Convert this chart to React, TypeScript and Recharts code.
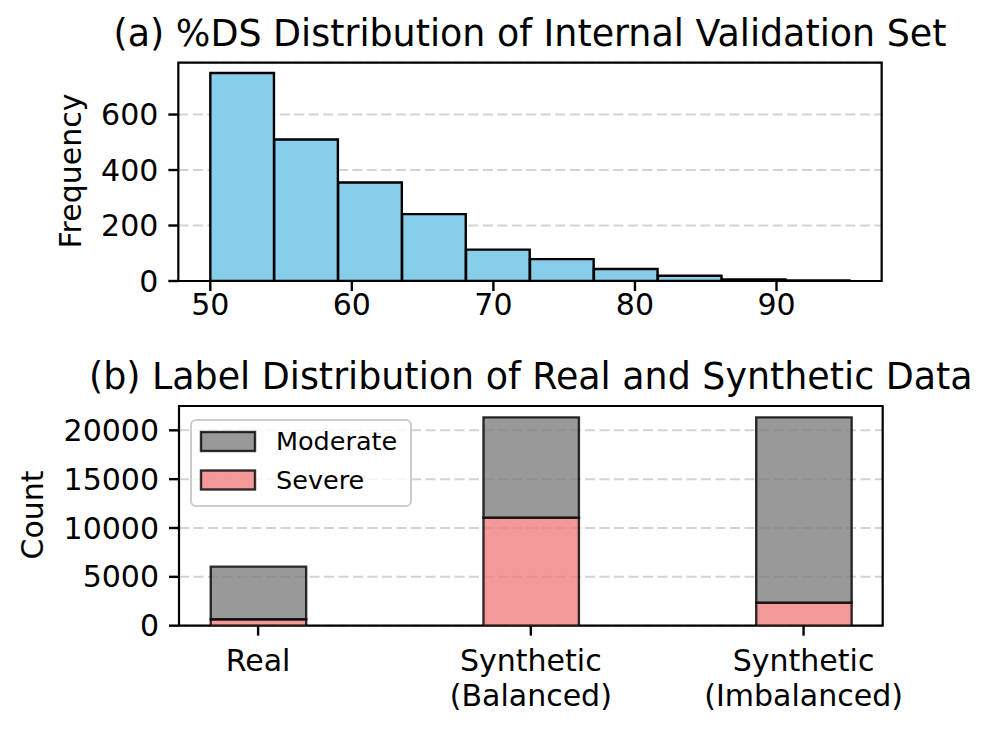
import React from 'react';
import { ComposedChart, Bar, XAxis, YAxis, CartesianGrid, ReferenceArea, Legend, Customized } from 'recharts';

const FONT = '"DejaVu Sans", sans-serif';

// (a) %DS histogram
const binEdges = [50, 54.517, 59.034, 63.551, 68.068, 72.585, 77.102, 81.619, 86.136, 90.653, 95.17];
const frequency = [750, 510, 355, 241, 113, 79, 43, 19, 6, 2];
const histXTicks = [50, 60, 70, 80, 90];
const histYTicks = [0, 200, 400, 600];
const histXDomain: [number, number] = [47.74, 97.43];
const histYDomain: [number, number] = [0, 787];

// (b) label distribution
const groups = ['Real', 'Synthetic\n(Balanced)', 'Synthetic\n(Imbalanced)'];
const severe = [660, 11060, 2355];
const moderate = [5380, 10270, 18975];
const countYTicks = [0, 5000, 10000, 15000, 20000];
const countXDomain: [number, number] = [-0.29, 2.29];
const countYDomain: [number, number] = [0, 22490];
const barWidthFrac = 0.35;

const legendOrder = ['Moderate', 'Severe'];
const seriesStyle: Record<string, { fill: string }> = {
  Moderate: { fill: '#808080' },
  Severe: { fill: '#F08080' },
};

const histData = frequency.map((count, i) => ({
  mid: (binEdges[i] + binEdges[i + 1]) / 2,
  count,
}));

const countData = groups.map((g, i) => ({
  pos: i,
  Severe: severe[i],
  Moderate: moderate[i],
}));

const W = 995;
const Y_AXIS_W = 60;
const B_TOP = 330;
const marginA = { top: 62.67, right: 113.33, left: 118.33, bottom: 9 };
const marginB = { top: 76, right: 112.33, left: 119, bottom: 43.33 };

const plotWA = W - marginA.left - Y_AXIS_W - marginA.right;
const plotWB = W - marginB.left - Y_AXIS_W - marginB.right;
// recharts shrinks bars to 90% if barSize reaches the bin spacing, so stay just under it
const minBinWidth = Math.min(...binEdges.slice(1).map((e, i) => e - binEdges[i]));
const histBarSize = (minBinWidth * plotWA) / (histXDomain[1] - histXDomain[0]) - 0.3;
const countBarSize = (barWidthFrac * plotWB) / (countXDomain[1] - countXDomain[0]);

const tickStyle = { fill: '#000', fontSize: 30, fontFamily: FONT };
const tickLineStyle = { stroke: '#000', strokeWidth: 2.4 };
const gridDash = '10 4.5';

const TitleA = () => (
  <g fontFamily={FONT} fill="#000">
    <text x={530} y={46} textAnchor="middle" fontSize={36.4}>
      (a) %DS Distribution of Internal Validation Set
    </text>
    <text x={81} y={171} textAnchor="middle" fontSize={30} transform="rotate(-90, 81, 171)">
      Frequency
    </text>
  </g>
);

const TitleB = () => (
  <g fontFamily={FONT} fill="#000">
    <text x={530.8} y={389.3 - B_TOP} textAnchor="middle" fontSize={36.4}>
      (b) Label Distribution of Real and Synthetic Data
    </text>
    <text x={43} y={515 - B_TOP} textAnchor="middle" fontSize={30} transform={`rotate(-90, 43, ${515 - B_TOP})`}>
      Count
    </text>
  </g>
);

const HistTick = ({ x, y, payload }: any) => (
  <text x={x} y={y} dy={24} textAnchor="middle" {...tickStyle}>
    {payload.value}
  </text>
);

const GroupTick = ({ x, y, payload }: any) => {
  const lines = (groups[payload.value] || '').split('\n');
  return (
    <text x={x} y={y} textAnchor="middle" {...tickStyle}>
      {lines.map((l, i) => (
        <tspan key={i} x={x} dy={i === 0 ? 27 : 35}>
          {l}
        </tspan>
      ))}
    </text>
  );
};

const CountLegend = () => (
  <svg width={224} height={90} style={{ display: 'block' }}>
    <rect x={1} y={1} width={220} height={86} rx={5} fill="#fff" fillOpacity={0.8} stroke="#cccccc" strokeWidth={2} />
    {legendOrder.map((name, i) => (
      <g key={name}>
        <rect
          x={11}
          y={13 + i * 38.5}
          width={54}
          height={19}
          fill={seriesStyle[name].fill}
          fillOpacity={0.8}
          stroke="#000"
          strokeOpacity={0.8}
          strokeWidth={2.4}
        />
        <text x={86} y={31 + i * 38.5} fontSize={25.5} fontFamily={FONT} fill="#000">
          {name}
        </text>
      </g>
    ))}
  </svg>
);

export default function App() {
  return (
    <div style={{ position: 'absolute', left: 0, top: 0, width: W, height: 729, background: '#fff' }}>
      <div style={{ position: 'absolute', left: 0, top: 0 }}>
        <ComposedChart width={W} height={330} data={histData} margin={marginA} barCategoryGap={0} barGap={0}>
          <CartesianGrid vertical={false} stroke="#d3d3d3" strokeWidth={2} strokeDasharray={gridDash} />
          <XAxis
            dataKey="mid"
            type="number"
            domain={histXDomain}
            ticks={histXTicks}
            allowDataOverflow
            axisLine={false}
            tickLine={tickLineStyle}
            tickSize={10}
            tickMargin={0}
            height={40}
            tick={<HistTick />}
          />
          <YAxis
            type="number"
            domain={histYDomain}
            ticks={histYTicks}
            allowDataOverflow
            axisLine={false}
            tickLine={tickLineStyle}
            tickSize={10}
            tickMargin={10}
            width={Y_AXIS_W}
            tick={tickStyle}
          />
          <Bar
            dataKey="count"
            fill="#87CEEB"
            stroke="#000"
            strokeWidth={2.4}
            barSize={histBarSize}
            isAnimationActive={false}
          />
          <ReferenceArea
            x1={histXDomain[0]}
            x2={histXDomain[1]}
            y1={histYDomain[0]}
            y2={histYDomain[1]}
            fill="none"
            stroke="#000"
            strokeWidth={2.2}
            ifOverflow="visible"
          />
          <Customized component={TitleA} />
        </ComposedChart>
      </div>
      <div style={{ position: 'absolute', left: 0, top: B_TOP }}>
        <ComposedChart width={W} height={729 - B_TOP} data={countData} margin={marginB} barGap={0}>
          <CartesianGrid vertical={false} stroke="#d3d3d3" strokeWidth={2} strokeDasharray={gridDash} />
          <XAxis
            dataKey="pos"
            type="number"
            domain={countXDomain}
            ticks={[0, 1, 2]}
            allowDataOverflow
            axisLine={false}
            tickLine={tickLineStyle}
            tickSize={10}
            tickMargin={8}
            height={60}
            tick={<GroupTick />}
          />
          <YAxis
            type="number"
            domain={countYDomain}
            ticks={countYTicks}
            allowDataOverflow
            axisLine={false}
            tickLine={tickLineStyle}
            tickSize={10}
            tickMargin={10}
            width={Y_AXIS_W}
            tick={tickStyle}
          />
          <Bar
            dataKey="Severe"
            name="Severe"
            stackId="labels"
            fill={seriesStyle.Severe.fill}
            fillOpacity={0.8}
            stroke="#000"
            strokeOpacity={0.8}
            strokeWidth={2.4}
            barSize={countBarSize}
            isAnimationActive={false}
          />
          <Bar
            dataKey="Moderate"
            name="Moderate"
            stackId="labels"
            fill={seriesStyle.Moderate.fill}
            fillOpacity={0.8}
            stroke="#000"
            strokeOpacity={0.8}
            strokeWidth={2.4}
            barSize={countBarSize}
            isAnimationActive={false}
          />
          <ReferenceArea
            x1={countXDomain[0]}
            x2={countXDomain[1]}
            y1={countYDomain[0]}
            y2={countYDomain[1]}
            fill="none"
            stroke="#000"
            strokeWidth={2.2}
            ifOverflow="visible"
          />
          <Legend
            layout="horizontal"
            verticalAlign="middle"
            align="center"
            content={<CountLegend />}
            wrapperStyle={{ left: 190, top: 419 - B_TOP, width: 224, height: 90 }}
          />
          <Customized component={TitleB} />
        </ComposedChart>
      </div>
    </div>
  );
}
